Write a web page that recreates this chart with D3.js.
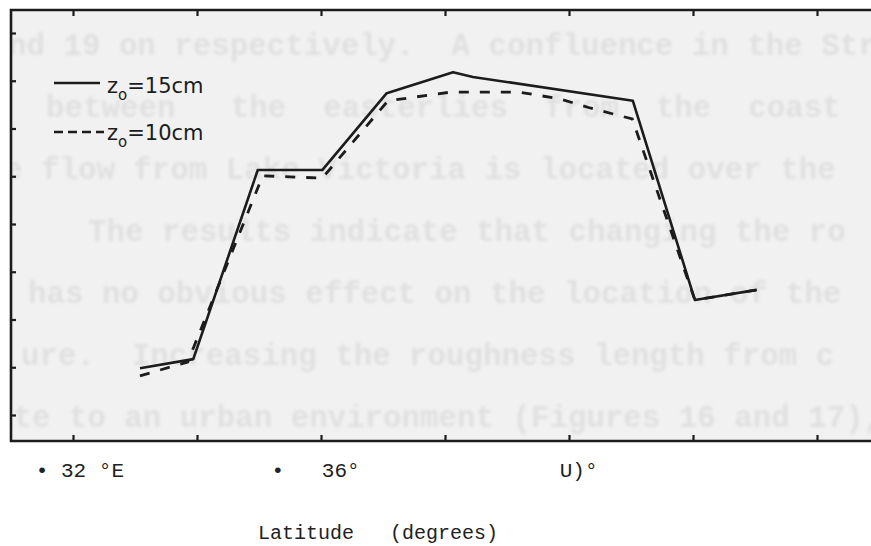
<!DOCTYPE html>
<html>
<head>
<meta charset="utf-8">
<script src="https://cdn.jsdelivr.net/npm/d3@7"></script>
<style>
  body { margin: 0; background: #fff; }
  svg { display: block; }
</style>
</head>
<body>
<div id="chart"></div>
<script>
// scanned figure: roughness length comparison along latitude

const width = 871, height = 546;
const margin = { top: 10, right: 0, bottom: 105, left: 11 };

// solid curve, z0 = 15 cm
const lon15 = [31.08, 31.94, 32.98, 34.02, 35.06, 36.13, 36.45, 39.03, 40.03, 41.03];
const val15 = [0.98, 1.17, 5.13, 5.13, 6.74, 7.18, 7.08, 6.58, 2.41, 2.62];

// dashed curve, z0 = 10 cm
const lon10 = [31.08, 31.85, 33.06, 34.02, 35.08, 36.08, 37.21, 37.85, 38.34, 39.02, 40.03, 41.03];
const val10 = [0.82, 1.11, 5.01, 4.96, 6.58, 6.76, 6.76, 6.62, 6.43, 6.20, 2.41, 2.62];

const xTicks = [30, 32, 34, 36, 38, 40, 42];
const yTicks = [0, 1, 2, 3, 4, 5, 6, 7, 8];

// tick labels as printed (OCR'd) under the axis
const xLabels = ["\u2022 32 \u00b0E", "\u2022   36\u00b0", "U)\u00b0"];
const xLabelAt = [29.4, 33.2, 37.85];
const xTitle = "Latitude   (degrees)";

const legendText = ["15cm", "10cm"];

// show-through text from the other side of the page
const ghostLines = [
  "nd 19 on respectively.  A confluence in the Str",
  "between   the  easterlies  from  the  coast  a",
  "e flow from Lake Victoria is located over the",
  "The results indicate that changing the ro",
  "has no obvious effect on the location of the",
  "ure.  Increasing the roughness length from c",
  "ate to an urban environment (Figures 16 and 17), w"
];
const ghostStart = [8, 46, 4, 88, 28, 21, -5];

const svg = d3.select("#chart")
  .append("svg")
  .attr("width", width)
  .attr("height", height);

const x = d3.scaleLinear().domain([30, 42]).range([73, 817]);
const y = d3.scaleLinear().domain([0, 8]).range([415, 33]);

const plotBottom = height - margin.bottom; // 441
const ink = "#1c1c1c";

// paper inside the frame
svg.append("rect")
  .attr("x", margin.left)
  .attr("y", margin.top)
  .attr("width", width - margin.left)
  .attr("height", plotBottom - margin.top)
  .attr("fill", "#f1f1f1");

const defs = svg.append("defs");
defs.append("filter").attr("id", "soft")
  .append("feGaussianBlur").attr("stdDeviation", 1.6);
defs.append("clipPath").attr("id", "plotclip")
  .append("rect")
  .attr("x", margin.left).attr("y", margin.top)
  .attr("width", width - margin.left).attr("height", plotBottom - margin.top);

svg.append("g")
  .attr("clip-path", "url(#plotclip)")
  .attr("filter", "url(#soft)")
  .selectAll("text")
  .data(ghostLines)
  .enter()
  .append("text")
    .attr("x", (d, i) => ghostStart[i])
    .attr("y", (d, i) => 55 + i * 62)
    .attr("font-family", "'Courier New', 'Liberation Mono', monospace")
    .attr("font-weight", "bold")
    .attr("font-size", "30.8px")
    .attr("fill", "#e0e0e0")
    .style("white-space", "pre")
    .text(d => d);

// axes, ticks pointing into the plot
svg.append("g")
  .attr("transform", `translate(${margin.left},0)`)
  .call(d3.axisLeft(y).tickValues(yTicks).tickSize(-5).tickFormat(""))
  .call(g => g.select(".domain").remove())
  .call(g => g.selectAll("line").attr("stroke", ink).attr("stroke-width", 2.2));

svg.append("g")
  .attr("transform", `translate(0,${margin.top})`)
  .call(d3.axisTop(x).tickValues(xTicks).tickSize(-6).tickFormat(""))
  .call(g => g.select(".domain").remove())
  .call(g => g.selectAll("line").attr("stroke", ink).attr("stroke-width", 2.2));

svg.append("g")
  .attr("transform", `translate(0,${plotBottom})`)
  .call(d3.axisBottom(x).tickValues(xTicks).tickSize(-6).tickFormat(""))
  .call(g => g.select(".domain").remove())
  .call(g => g.selectAll("line").attr("stroke", ink).attr("stroke-width", 2.2));

// frame (open on the right, runs off the page)
svg.append("path")
  .attr("d", `M${width},${margin.top}H${margin.left}V${plotBottom}H${width}`)
  .attr("fill", "none")
  .attr("stroke", ink)
  .attr("stroke-width", 2.6);

// curves
const line = d3.line()
  .x(d => x(d[0]))
  .y(d => y(d[1]));

svg.append("path")
  .datum(d3.zip(lon10, val10))
  .attr("d", line)
  .attr("fill", "none")
  .attr("stroke", ink)
  .attr("stroke-width", 2.8)
  .attr("stroke-dasharray", "10,11");

svg.append("path")
  .datum(d3.zip(lon15, val15))
  .attr("d", line)
  .attr("fill", "none")
  .attr("stroke", ink)
  .attr("stroke-width", 2.6)
  .attr("stroke-linejoin", "round");

// legend
const legend = svg.append("g");
legendText.forEach((t, i) => {
  const ly = i === 0 ? 83 : 132;
  const ty = i === 0 ? 93 : 140;
  legend.append("line")
    .attr("x1", 54).attr("x2", i === 0 ? 100 : 104)
    .attr("y1", ly).attr("y2", ly)
    .attr("stroke", ink)
    .attr("stroke-width", 2.4)
    .attr("stroke-dasharray", i === 0 ? null : "9,5");
  const txt = legend.append("text")
    .attr("x", 107).attr("y", ty)
    .attr("font-family", "'DejaVu Sans', sans-serif")
    .attr("font-size", "21px")
    .attr("fill", ink);
  txt.append("tspan").text("z");
  txt.append("tspan").attr("dy", 7).attr("font-size", "15px").text("o");
  txt.append("tspan").attr("dy", -7).text("=" + t);
});

// tick labels and title below the frame
svg.append("g")
  .selectAll("text")
  .data(xLabels)
  .enter()
  .append("text")
    .attr("x", (d, i) => x(xLabelAt[i]))
    .attr("y", 477)
    .attr("font-family", "'Courier New', 'Liberation Mono', monospace")
    .attr("font-size", "21px")
    .attr("fill", "#222")
    .style("white-space", "pre")
    .text(d => d);

svg.append("text")
  .attr("x", 258)
  .attr("y", 539)
  .attr("font-family", "'Courier New', 'Liberation Mono', monospace")
  .attr("font-size", "20px")
  .attr("fill", "#222")
  .style("white-space", "pre")
  .text(xTitle);
</script>
</body>
</html>
